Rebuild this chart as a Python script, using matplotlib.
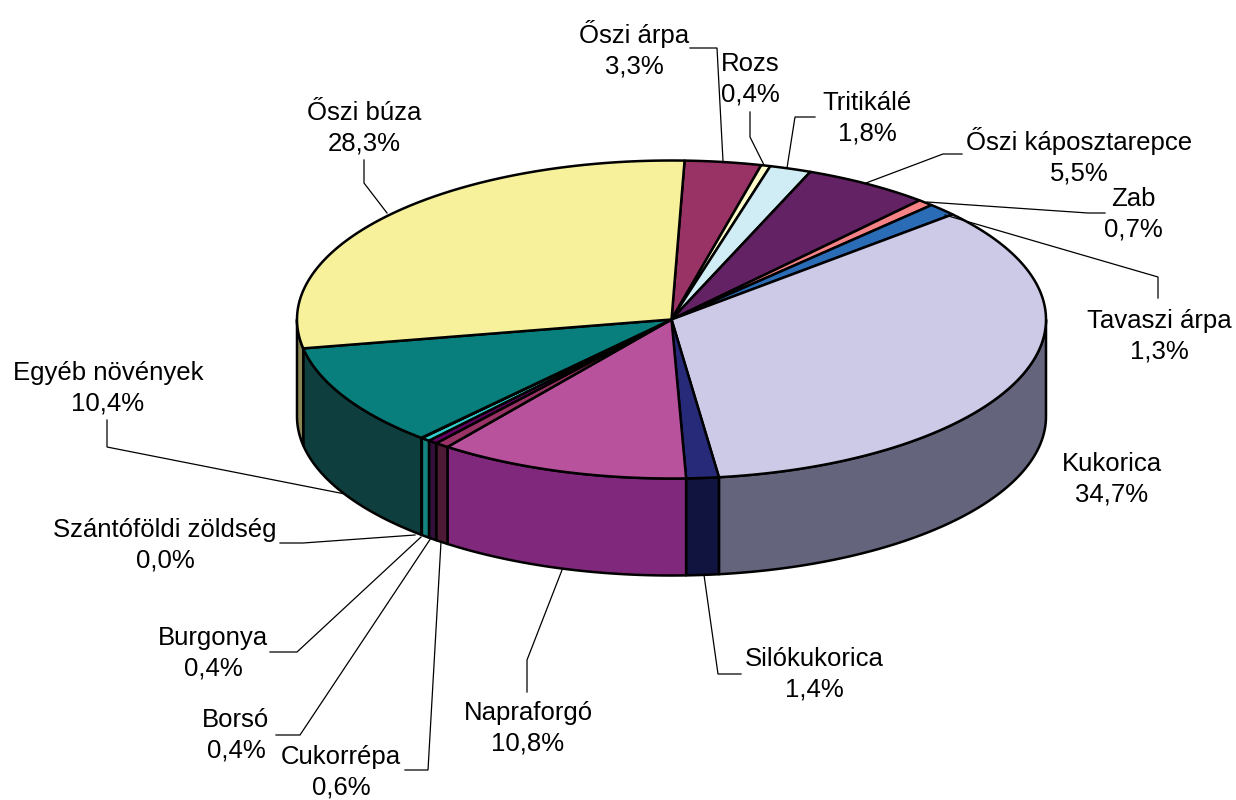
import numpy as np
import matplotlib
matplotlib.use("Agg")
import matplotlib.pyplot as plt
from matplotlib.patches import Polygon

categories = ["Őszi árpa", "Rozs", "Tritikálé", "Őszi káposztarepce", "Zab", "Tavaszi árpa",
              "Kukorica", "Silókukorica", "Napraforgó", "Cukorrépa", "Borsó", "Burgonya",
              "Szántóföldi zöldség", "Egyéb növények", "Őszi búza"]
values = [3.3, 0.4, 1.8, 5.5, 0.7, 1.3, 34.7, 1.4, 10.8, 0.6, 0.4, 0.4, 0.03, 10.37, 28.3]
shown = ["3,3%", "0,4%", "1,8%", "5,5%", "0,7%", "1,3%", "34,7%", "1,4%", "10,8%",
         "0,6%", "0,4%", "0,4%", "0,0%", "10,4%", "28,3%"]
top_colors = ["#993366", "#FFFFCC", "#D0ECF4", "#632264", "#F58284", "#2A6CB5", "#CCCAE6", "#262A78",
              "#B8529C", "#993366", "#660066", "#33CCCC", "#993366", "#087F7D", "#F6F19A"]
side_colors = ["#4C1A33", "#80805F", "#686F78", "#321032", "#7A4040", "#15365A", "#64647D", "#10143E",
               "#80287C", "#4C1A34", "#32103A", "#14827F", "#4C1A33", "#0E3E3E", "#8B8755"]

label_xy = [(634, 49), (750, 79), (867, 118), (1079, 156), (1133, 214), (1159, 336), (1112, 479),
            (814, 674), (528, 728), (341, 772), (236, 735), (213, 653), (165, 545), (108, 388), (364, 128)]
leaders = [[(723, 161), (717, 48), (690, 48)], [(764, 165), (750, 137), (750, 112)],
           [(787, 168), (795, 117), (815, 117)], [(866, 183), (943, 154), (962, 154)],
           [(927, 202), (1088, 213), (1105, 213)], [(945, 215), (1158, 277), (1158, 298)], None,
           [(704, 575), (718, 674), (741, 674)], [(562, 570), (527, 660), (527, 692)],
           [(441, 542), (428, 770), (405, 770)], [(431, 538), (300, 735), (276, 735)],
           [(421, 537), (297, 652), (270, 652)], [(415, 535), (303, 543), (280, 543)],
           [(345, 494), (107, 447), (107, 420)], [(387, 213), (364, 183), (364, 160)]]

CX, CY, RX, RY, DEPTH = 671.5, 319.5, 374.5, 159, 97
START = 2.0

def warp(a):
    # slight perspective shift of the projected angle toward the viewer
    return a - 1.0 * np.sin(np.radians(a) / 2) ** 2

def pt(a, dy=0):
    r = np.radians(a)
    return CX + RX * np.sin(r), CY - RY * np.cos(r) + dy

plt.rcParams["font.family"] = ["Liberation Sans", "DejaVu Sans"]
fig = plt.figure(figsize=(12.36, 8), dpi=100)
ax = fig.add_axes([0, 0, 1, 1])
ax.set_xlim(0, 1236)
ax.set_ylim(800, 0)
ax.axis("off")

edges = warp(START + np.concatenate([[0], np.cumsum(values)]) * 360 / sum(values))
edges[-1] = edges[0] + 360
LW = 1.8
for i in range(len(values)):
    a0, a1 = max(edges[i], 90), min(edges[i + 1], 270)
    if a1 <= a0:
        continue
    t = np.linspace(a0, a1, 80)
    x, y = pt(t)
    xy = np.r_[np.c_[x, y], np.c_[x[::-1], y[::-1] + DEPTH]]
    ax.add_patch(Polygon(xy, closed=True, fc=side_colors[i], ec="black", lw=LW, joinstyle="round", zorder=2))
for i in range(len(values)):
    t = np.linspace(edges[i], edges[i + 1], 120)
    x, y = pt(t)
    xy = np.r_[[[CX, CY]], np.c_[x, y]]
    ax.add_patch(Polygon(xy, closed=True, fc=top_colors[i], ec="black", lw=LW, joinstyle="round", zorder=3))

for pts in leaders:
    if pts:
        ax.plot(*zip(*pts), color="black", lw=0.9, zorder=4, solid_joinstyle="miter")
for c, s, (x, y) in zip(categories, shown, label_xy):
    ax.text(x, y, f"{c}\n{s}", ha="center", va="center", fontsize=18.5, linespacing=1.36,
            color="black", zorder=5)
fig.savefig("out.png", dpi=100)
